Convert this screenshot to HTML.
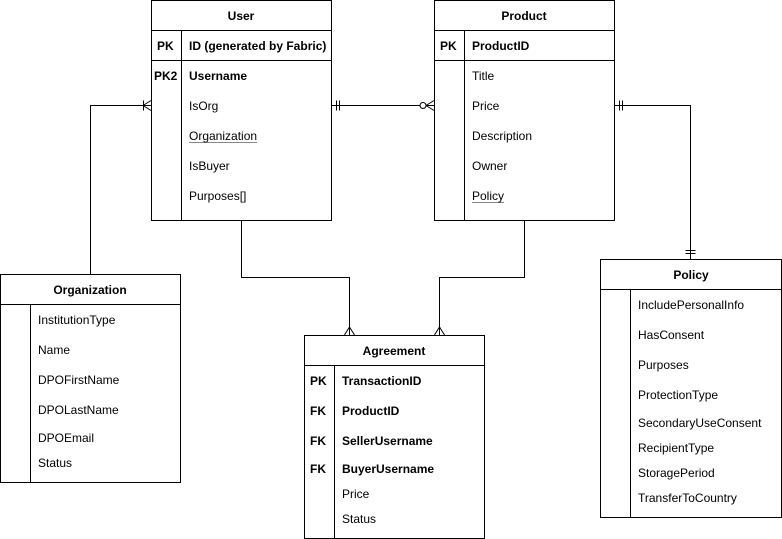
<!DOCTYPE html>
<html><head><meta charset="utf-8"><style>
html,body{margin:0;padding:0;background:#fff;}
svg{display:block;font-family:"Liberation Sans",sans-serif;font-size:12px;}
.b{font-weight:bold;}
</style></head><body>
<svg width="782" height="539" viewBox="0 0 782 539" xmlns="http://www.w3.org/2000/svg">
<g fill="none" stroke="#000" stroke-width="1">
<!-- connectors -->
<path d="M90.5 274V105.5H151"/>
<path d="M143 105.5L151 100.5M143 105.5L151 110.5M143.5 100.5V110.5"/>
<path d="M331 105.5H434"/>
<path d="M336.5 100.5v10M339.5 100.5v10"/>
<circle cx="423" cy="105.5" r="3" fill="#fff"/>
<path d="M426 105.5L434 100.5M426 105.5L434 110.5"/>
<path d="M614 105.5H690.5V259"/>
<path d="M619.5 100.5v10M622.5 100.5v10"/>
<path d="M685.5 250.5h10M685.5 253.5h10"/>
<path d="M241.5 220V277.5H349.5V335"/>
<path d="M349.5 327L344.5 335M349.5 327L354.5 335"/>
<path d="M524.5 220V277.5H439.5V335"/>
<path d="M439.5 327L434.5 335M439.5 327L444.5 335"/>
<!-- User -->
<rect x="151.5" y="0.5" width="180" height="220" fill="#fff"/>
<path d="M151.5 30.5h180M151.5 60.5h180M181.5 30.5v190"/>
<!-- Product -->
<rect x="434.5" y="0.5" width="180" height="220" fill="#fff"/>
<path d="M434.5 30.5h180M434.5 60.5h180M464.5 30.5v190"/>
<!-- Organization -->
<rect x="0.5" y="274.5" width="180" height="208" fill="#fff"/>
<path d="M0.5 304.5h180M30.5 304.5v178"/>
<!-- Agreement -->
<rect x="304.5" y="335.5" width="180" height="203" fill="#fff"/>
<path d="M304.5 365.5h180M334.5 365.5v173"/>
<!-- Policy -->
<rect x="600.5" y="259.5" width="181" height="258" fill="#fff"/>
<path d="M600.5 289.5h181M630.5 289.5v228"/>
<!-- underlines -->
<path d="M189 142.5h68M472 202.5h32" stroke="#888"/>
</g>
<g fill="#000">
<text class="b" x="241" y="20" text-anchor="middle">User</text>
<text class="b" x="157" y="50">PK</text>
<text class="b" x="189" y="50">ID (generated by Fabric)</text>
<text class="b" x="154" y="80">PK2</text>
<text class="b" x="189" y="80">Username</text>
<text x="189" y="110">IsOrg</text>
<text x="189" y="140">Organization</text>
<text x="189" y="170">IsBuyer</text>
<text x="189" y="200">Purposes[]</text>

<text class="b" x="524" y="20" text-anchor="middle">Product</text>
<text class="b" x="440" y="50">PK</text>
<text class="b" x="472" y="50">ProductID</text>
<text x="472" y="80">Title</text>
<text x="472" y="110">Price</text>
<text x="472" y="140">Description</text>
<text x="472" y="170">Owner</text>
<text x="472" y="200">Policy</text>

<text class="b" x="90" y="294" text-anchor="middle">Organization</text>
<text x="38" y="324">InstitutionType</text>
<text x="38" y="354">Name</text>
<text x="38" y="384">DPOFirstName</text>
<text x="38" y="414">DPOLastName</text>
<text x="38" y="442">DPOEmail</text>
<text x="38" y="467">Status</text>

<text class="b" x="394" y="355" text-anchor="middle">Agreement</text>
<text class="b" x="310" y="385">PK</text>
<text class="b" x="342" y="385">TransactionID</text>
<text class="b" x="310" y="415">FK</text>
<text class="b" x="342" y="415">ProductID</text>
<text class="b" x="310" y="445">FK</text>
<text class="b" x="342" y="445">SellerUsername</text>
<text class="b" x="310" y="473">FK</text>
<text class="b" x="342" y="473">BuyerUsername</text>
<text x="342" y="498">Price</text>
<text x="342" y="523">Status</text>

<text class="b" x="691" y="279" text-anchor="middle">Policy</text>
<text x="638" y="309">IncludePersonalInfo</text>
<text x="638" y="339">HasConsent</text>
<text x="638" y="369">Purposes</text>
<text x="638" y="399">ProtectionType</text>
<text x="638" y="427">SecondaryUseConsent</text>
<text x="638" y="452">RecipientType</text>
<text x="638" y="477">StoragePeriod</text>
<text x="638" y="502">TransferToCountry</text>
</g>
</svg>
</body></html>
